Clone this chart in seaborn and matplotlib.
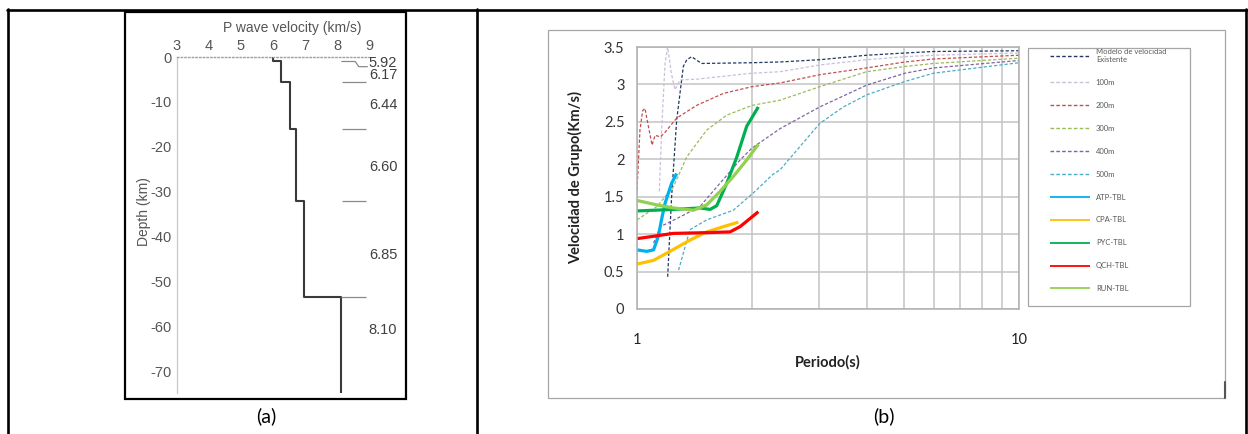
import numpy as np
import pandas as pd
import matplotlib
matplotlib.use("Agg")
import matplotlib.pyplot as plt
from matplotlib.lines import Line2D
from matplotlib.patches import Rectangle
from matplotlib.ticker import MultipleLocator, NullFormatter, FixedLocator
import seaborn as sns

# ---------------- data: panel (a) ----------------
layer_vel = [6.0, 6.25, 6.52, 6.72, 6.98, 8.12]
layer_top = [0.0, -1.0, -5.5, -16.0, -32.0, -53.5]
profile_bottom = -74.8
iface_depth = [-5.5, -16.0, -32.0, -53.5]
iface_x0 = [8.15, 8.15, 8.15, 8.12]
iface_x1 = 8.9
top_mark_v = [8.15, 8.57, 8.68, 8.95]
top_mark_d = [-1.0, -1.0, -2.15, -2.15]
vel_labels = ["5.92", "6.17", "6.44", "6.60", "6.85", "8.10"]
vel_label_depth = [-1.3, -3.9, -10.7, -24.4, -44.1, -60.8]
depth_ticks = [0, -10, -20, -30, -40, -50, -60, -70]
vel_ticks = [3, 4, 5, 6, 7, 8, 9]

# ---------------- data: panel (b) ----------------
model_x = [1.203, 1.232, 1.27, 1.322, 1.35, 1.39, 1.476, 2.0, 2.37, 3.01, 3.99, 5.03, 5.97, 10.0]
model_y = [0.43, 1.50, 2.52, 3.24, 3.33, 3.37, 3.28, 3.29, 3.30, 3.33, 3.39, 3.42, 3.44, 3.45]
m100_x = [1.144, 1.16, 1.184, 1.203, 1.23, 1.257, 1.296, 1.432, 2.0, 2.37, 3.01, 3.99, 5.03, 5.97, 10.0]
m100_y = [1.57, 2.39, 3.28, 3.50, 3.15, 2.93, 3.06, 3.07, 3.15, 3.17, 3.26, 3.33, 3.37, 3.39, 3.42]
m200_x = [1.0, 1.018, 1.035, 1.049, 1.07, 1.095, 1.115, 1.151, 1.184, 1.27, 1.432, 1.683, 2.0, 2.37, 3.01, 3.99, 5.03, 5.97, 10.0]
m200_y = [1.59, 2.39, 2.65, 2.68, 2.45, 2.19, 2.32, 2.30, 2.36, 2.55, 2.72, 2.88, 2.97, 3.02, 3.13, 3.22, 3.30, 3.34, 3.39]
m300_x = [1.0, 1.128, 1.245, 1.349, 1.522, 1.718, 2.0, 2.37, 3.01, 3.99, 5.03, 5.97, 10.0]
m300_y = [1.19, 1.37, 1.63, 2.03, 2.39, 2.59, 2.72, 2.79, 2.97, 3.17, 3.24, 3.28, 3.35]
m400_x = [1.105, 1.151, 1.296, 1.462, 1.649, 1.861, 2.0, 2.37, 3.01, 3.99, 5.03, 5.97, 10.0]
m400_y = [0.88, 1.10, 1.23, 1.37, 1.68, 1.99, 2.15, 2.41, 2.70, 2.99, 3.15, 3.22, 3.32]
m500_x = [1.285, 1.376, 1.522, 1.787, 2.016, 2.27, 2.37, 2.67, 3.01, 3.47, 3.99, 5.03, 5.97, 10.0]
m500_y = [0.52, 1.06, 1.19, 1.32, 1.55, 1.80, 1.86, 2.17, 2.48, 2.70, 2.86, 3.04, 3.15, 3.29]
atp_x = [1.0, 1.06, 1.105, 1.137, 1.16, 1.184, 1.232, 1.27]
atp_y = [0.79, 0.77, 0.79, 0.97, 1.20, 1.41, 1.68, 1.81]
cpa_x = [1.0, 1.105, 1.22, 1.376, 1.522, 1.683, 1.842]
cpa_y = [0.60, 0.65, 0.77, 0.92, 1.03, 1.10, 1.16]
pyc_x = [1.0, 1.245, 1.462, 1.553, 1.617, 1.718, 1.825, 1.937, 2.078]
pyc_y = [1.31, 1.33, 1.35, 1.33, 1.38, 1.68, 2.03, 2.44, 2.70]
qch_x = [1.0, 1.245, 1.522, 1.752, 1.861, 1.978, 2.078]
qch_y = [0.94, 1.01, 1.02, 1.03, 1.10, 1.21, 1.30]
run_x = [1.0, 1.128, 1.245, 1.406, 1.522, 1.649, 1.787, 1.937, 2.078]
run_y = [1.45, 1.39, 1.35, 1.32, 1.39, 1.57, 1.77, 1.99, 2.20]

series_names = ["Modelo de velocidad\nExistente", "100m", "200m", "300m", "400m", "500m",
                "ATP-TBL", "CPA-TBL", "PYC-TBL", "QCH-TBL", "RUN-TBL"]
series_x = [model_x, m100_x, m200_x, m300_x, m400_x, m500_x, atp_x, cpa_x, pyc_x, qch_x, run_x]
series_y = [model_y, m100_y, m200_y, m300_y, m400_y, m500_y, atp_y, cpa_y, pyc_y, qch_y, run_y]
series_colors = ["#1f3864", "#cbbfda", "#c0504d", "#9bbb59", "#8064a2", "#4bacc6",
                 "#00b0f0", "#ffc000", "#00b050", "#ff0000", "#92d050"]
series_dashed = [True] * 6 + [False] * 5
period_ticks = [1, 10]
period_minor = [2, 3, 4, 5, 6, 7, 8, 9]
vel_b_ticks = [0, 0.5, 1, 1.5, 2, 2.5, 3, 3.5]
vel_b_labels = ["0", "0.5", "1", "1.5", "2", "2.5", "3", "3.5"]

# ---------------- figure ----------------
sns.set_style("white")
plt.rcParams['font.family'] = ['Lato', 'DejaVu Sans']
plt.rcParams['axes.unicode_minus'] = False

W, H = 1248, 434
fig = plt.figure(figsize=(W / 100, H / 100), dpi=100)


def fx(px):
    return px / W


def fy(py):
    return 1 - py / H


# table borders
for (x0, y0, x1, y1) in [(7, 9.5, 1248, 9.5), (8, 9, 8, 434), (477, 9, 477, 434), (1246, 9, 1246, 434)]:
    fig.add_artist(Line2D([fx(x0), fx(x1)], [fy(y0), fy(y1)], color="black", lw=1.9,
                          transform=fig.transFigure))

# ---------------- panel (a) ----------------
fig.add_artist(Rectangle((fx(125), fy(399)), fx(406) - fx(125), fy(12) - fy(399),
                         transform=fig.transFigure, fill=False, edgecolor="black", lw=1.6))
axa = fig.add_axes([fx(177), fy(393), fx(369) - fx(177), fy(57) - fy(393)])

vel_steps, dep_steps = [], []
for i, v in enumerate(layer_vel):
    top = layer_top[i]
    bot = layer_top[i + 1] if i + 1 < len(layer_top) else profile_bottom
    vel_steps += [v, v]
    dep_steps += [top, bot]
df_a = pd.DataFrame({"v": vel_steps, "d": dep_steps})
sns.lineplot(data=df_a, x="v", y="d", ax=axa, sort=False, estimator=None,
             color="#3a3a3a", lw=1.5)
axa.hlines(iface_depth, iface_x0, iface_x1, color="#8a8a8a", lw=0.9)
axa.plot(top_mark_v, top_mark_d, color="#8a8a8a", lw=0.9, clip_on=False)
for s, d in zip(vel_labels, vel_label_depth):
    axa.text(9.44, d, s, ha="center", va="center", fontsize=10.5, color="#404040",
             family="Liberation Sans", clip_on=False)

axa.set_xlim(3, 9)
axa.set_ylim(profile_bottom, 0)
axa.set_xticks(vel_ticks)
axa.set_yticks(depth_ticks)
axa.yaxis.set_minor_locator(MultipleLocator(2.5))
axa.xaxis.tick_top()
axa.tick_params(axis="x", length=0, pad=3, labelsize=10.5, labelcolor="#555555",
                labelfontfamily="Liberation Sans")
axa.tick_params(axis="y", which="major", direction="in", length=3, color="#c8c8c8", pad=4,
                labelsize=10.5, labelcolor="#555555", labelfontfamily="Liberation Sans")
axa.tick_params(axis="y", which="minor", direction="in", length=2, color="#d0d0d0")
for side in ["right", "bottom"]:
    axa.spines[side].set_visible(False)
axa.spines["left"].set_color("#c8c8c8")
axa.spines["left"].set_linewidth(0.9)
axa.spines["top"].set_color("#a0a0a0")
axa.spines["top"].set_linestyle(":")
axa.spines["top"].set_linewidth(1.0)
axa.set_xlabel("P wave velocity (km/s)", fontsize=10, color="#555555", family="Liberation Sans")
axa.xaxis.set_label_position("top")
axa.xaxis.set_label_coords(0.6, 1.075)
axa.set_ylabel("Depth (km)", fontsize=10, color="#555555", family="Liberation Sans")
axa.yaxis.set_label_coords(-0.135, 0.54)

fig.text(fx(266), fy(416), "(a)", ha="center", va="center", fontsize=14, color="black")

# ---------------- panel (b) ----------------
fig.add_artist(Rectangle((fx(548), fy(398)), fx(1225) - fx(548), fy(30) - fy(398),
                         transform=fig.transFigure, fill=False, edgecolor="#a6a6a6", lw=0.9))
fig.add_artist(Line2D([fx(1225), fx(1225)], [fy(382), fy(398)], color="#555555", lw=1.5,
                      transform=fig.transFigure))

axb = fig.add_axes([fx(637), fy(309), fx(1019) - fx(637), fy(47) - fy(309)])
axb.set_xscale("log")
axb.set_xlim(1, 10)
axb.set_ylim(0, 3.5)
for name, xs, ys, c, dashed in zip(series_names, series_x, series_y, series_colors, series_dashed):
    if dashed:
        sns.lineplot(x=xs, y=ys, ax=axb, color=c, lw=0.9, linestyle=(0, (2.6, 1.6)),
                     sort=False, estimator=None, label=name)
    else:
        sns.lineplot(x=xs, y=ys, ax=axb, color=c, lw=2.3, solid_capstyle="butt",
                     sort=False, estimator=None, label=name)

axb.set_xlim(1, 10)
axb.set_ylim(0, 3.5)
axb.set_xticks(period_ticks)
axb.set_xticklabels([str(t) for t in period_ticks])
axb.xaxis.set_minor_locator(FixedLocator(period_minor))
axb.xaxis.set_minor_formatter(NullFormatter())
axb.set_yticks(vel_b_ticks)
axb.set_yticklabels(vel_b_labels)
axb.set_axisbelow(True)
axb.grid(True, which="both", axis="both", color="#c4c4c4", lw=1.1)
axb.tick_params(axis="y", direction="out", length=4, color="#a0a0a0", width=1,
                pad=5, labelsize=10.5, labelcolor="#333333")
axb.tick_params(axis="x", which="both", direction="out", length=4, color="#a0a0a0", width=1,
                pad=13, labelsize=10.5, labelcolor="#222222")
for side in axb.spines:
    axb.spines[side].set_color("#b0b0b0")
    axb.spines[side].set_linewidth(1.1)
axb.set_xlabel("Periodo(s)", fontsize=10.5, fontweight="bold", color="#222222")
axb.xaxis.set_label_coords(0.5, -0.175)
axb.set_ylabel("Velocidad de Grupo(Km/s)", fontsize=10.5, fontweight="bold", color="#222222")
axb.yaxis.set_label_coords(-0.14, 0.5)

# legend
fig.add_artist(Rectangle((fx(1028), fy(306)), fx(1190) - fx(1028), fy(48) - fy(306),
                         transform=fig.transFigure, fill=False, edgecolor="#a6a6a6", lw=0.9))
handles, labels = axb.get_legend_handles_labels()
leg = axb.legend(handles, labels, loc="upper left", bbox_to_anchor=(fx(1050), fy(48)),
                 bbox_transform=fig.transFigure, frameon=False, fontsize=5.5,
                 handlelength=5.3, handletextpad=0.7, labelspacing=2.08,
                 borderpad=0, borderaxespad=0, labelcolor="#595959")
for ln in leg.get_lines():
    ln.set_linewidth(1.0 if ln.get_linestyle() != "-" else 1.3)

fig.text(fx(884), fy(416), "(b)", ha="center", va="center", fontsize=14, color="black")

fig.savefig("out.png", dpi=100)
